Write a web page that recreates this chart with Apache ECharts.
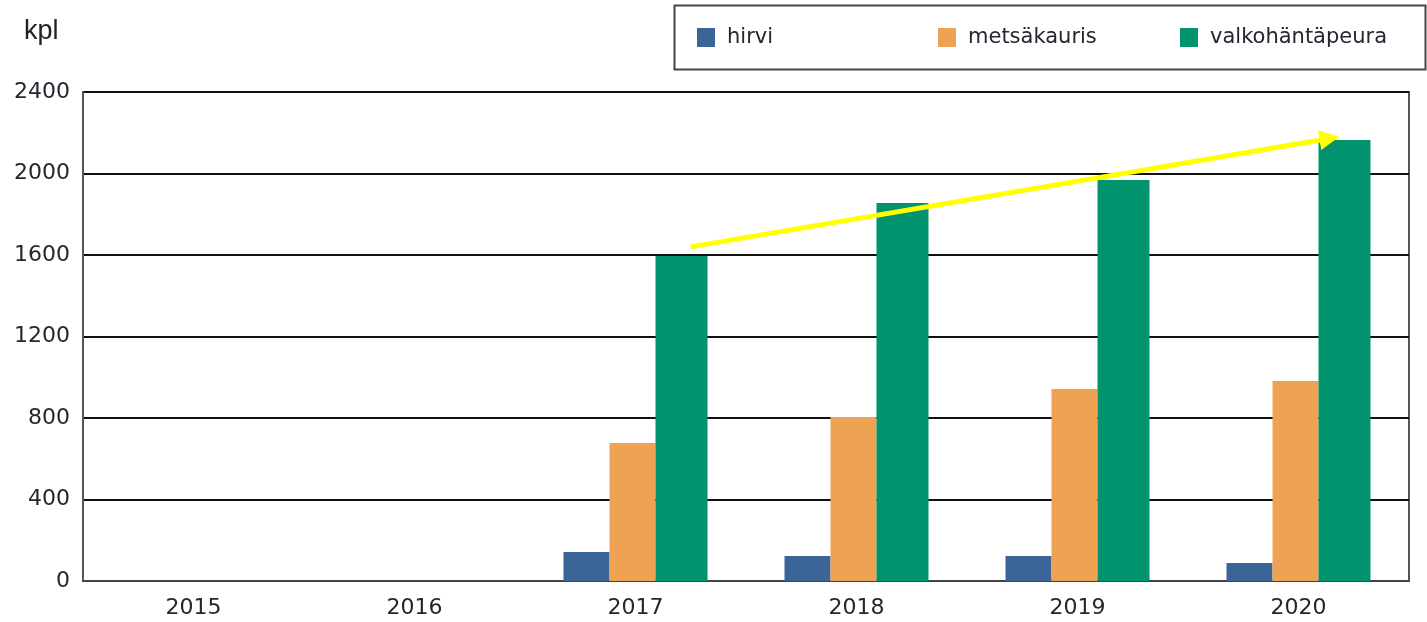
<!DOCTYPE html>
<html lang="fi" style="height: 100%">
<head>
  <meta charset="utf-8">
</head>
<body style="height: 100%; margin: 0; background: #fff">
  <div id="container" style="width: 1427px; height: 622px"></div>

  <script type="text/javascript" src="https://fastly.jsdelivr.net/npm/echarts@6/dist/echarts.min.js"></script>

  <script type="text/javascript">
    // vuodet ja lajikohtaiset määrät (kpl)
    const vuodet = ['2015', '2016', '2017', '2018', '2019', '2020'];
    const lajit = ['hirvi', 'metsäkauris', 'valkohäntäpeura'];
    const hirvi = [null, null, 142, 123, 123, 88];
    const metsakauris = [null, null, 677, 805, 942, 981];
    const valkohanta = [null, null, 1595, 1855, 1968, 2164];
    const yTicks = [0, 400, 800, 1200, 1600, 2000, 2400];

    // keltainen trendinuoli, x = kategoriaindeksi (0..6), y = kpl
    const nuoliAlku = [2.75, 1640];
    const nuoliLoppu = [5.64, 2172];

    var dom = document.getElementById('container');
    var myChart = echarts.init(dom, null, { renderer: 'canvas' });

    var fontti = '"DejaVu Sans", Verdana, sans-serif';
    var legendX = [697, 938, 1180];

    var option = {
      backgroundColor: '#fff',
      animation: false,
      title: {
        text: 'kpl',
        left: 19,
        top: 13,
        textStyle: {
          fontFamily: '"Liberation Sans", Arial, sans-serif',
          fontSize: 27,
          fontWeight: 'normal',
          color: '#222'
        }
      },
      // selitelaatikon kehys
      graphic: [{
        type: 'rect',
        left: 672,
        top: 3,
        shape: { width: 751, height: 64 },
        style: { fill: 'none', stroke: '#444', lineWidth: 2 },
        z: 1
      }],
      legend: lajit.map(function (laji, i) {
        return {
          data: [laji],
          left: legendX[i],
          top: 27,
          padding: 0,
          itemWidth: 18,
          itemHeight: 19,
          icon: 'rect',
          textStyle: {
            fontFamily: fontti,
            fontSize: 21,
            color: '#262630',
            padding: [0, 0, 0, 7]
          }
        };
      }),
      grid: {
        left: 83,
        right: 18,
        top: 92,
        bottom: 41,
        show: true,
        borderColor: '#555',
        borderWidth: 2
      },
      xAxis: [
        {
          type: 'category',
          data: vuodet,
          axisLine: { lineStyle: { color: '#444', width: 2 } },
          axisTick: { show: false },
          axisLabel: {
            margin: 16,
            fontFamily: fontti,
            fontSize: 22,
            color: '#262630'
          }
        },
        {
          type: 'value',
          min: 0,
          max: vuodet.length,
          show: false
        }
      ],
      yAxis: {
        type: 'value',
        min: yTicks[0],
        max: yTicks[yTicks.length - 1],
        interval: yTicks[1] - yTicks[0],
        axisLine: { show: true, lineStyle: { color: '#555', width: 2 } },
        axisTick: { show: false },
        axisLabel: {
          margin: 13,
          fontFamily: fontti,
          fontSize: 22,
          color: '#262630',
          formatter: function (v) { return String(v); }
        },
        splitLine: { lineStyle: { color: '#111', width: 2 } }
      },
      series: [
        {
          name: lajit[0],
          type: 'bar',
          barWidth: 46,
          barGap: 0,
          itemStyle: { color: '#3b6597' },
          data: hirvi
        },
        {
          name: lajit[1],
          type: 'bar',
          barWidth: 46,
          barGap: 0,
          itemStyle: { color: '#eda353' },
          data: metsakauris
        },
        {
          name: lajit[2],
          type: 'bar',
          barWidth: 52,
          barGap: 0,
          itemStyle: { color: '#00936d' },
          data: valkohanta
        },
        {
          name: 'nuoli',
          type: 'lines',
          coordinateSystem: 'cartesian2d',
          xAxisIndex: 1,
          silent: true,
          symbol: ['none', 'triangle'],
          symbolSize: [18, 20],
          lineStyle: { color: '#ffff00', width: 5, opacity: 1 },
          z: 10,
          data: [{ coords: [nuoliAlku, nuoliLoppu] }]
        }
      ]
    };

    myChart.setOption(option);
    window.addEventListener('resize', myChart.resize);
  </script>
</body>
</html>
